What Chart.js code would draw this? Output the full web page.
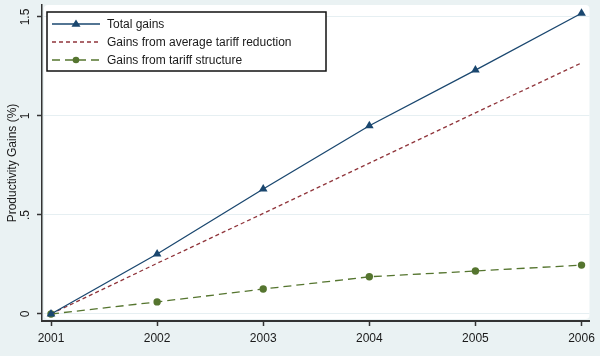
<!DOCTYPE html>
<html><head><meta charset="utf-8">
<script src="https://cdn.jsdelivr.net/npm/chart.js@4/dist/chart.umd.min.js"></script>
<style>html,body{margin:0;padding:0;background:#eaf2f3;overflow:hidden}</style>
</head><body><canvas id="c" width="600" height="356"></canvas>
<script>
const years = [2001, 2002, 2003, 2004, 2005, 2006];
const totalGains = [0, 0.303, 0.631, 0.951, 1.232, 1.519];
const avgTariffGains = [0, 0.256, 0.508, 0.762, 1.016, 1.268];
const structureGains = [0, 0.061, 0.126, 0.188, 0.217, 0.247];
const seriesLabels = ['Total gains', 'Gains from average tariff reduction', 'Gains from tariff structure'];
const yTicks = [0, 0.5, 1, 1.5];
const yTickLabels = ['0', '.5', '1', '1.5'];
const yTitle = 'Productivity Gains (%)';

const NAVY = '#1a476f', MAROON = '#90353b', GREEN = '#55752f';
const FONT = '"Liberation Sans", Arial, sans-serif';
const TXT = '#1a1a1a';

const toPts = arr => years.map((y, i) => ({x: y, y: arr[i]}));

const styles = [
  {color: NAVY, dash: [], marker: 'triangle', r: 5},
  {color: MAROON, dash: [4, 3], marker: null, r: 0},
  {color: GREEN, dash: [8, 5], marker: 'circle', r: 3.7}
];

const deco = {
  id: 'deco',
  beforeDraw(chart) {
    const {ctx, chartArea: ca} = chart;
    ctx.save();
    ctx.fillStyle = '#eaf2f3';
    ctx.fillRect(0, 0, chart.width, chart.height);
    ctx.fillStyle = '#ffffff';
    ctx.beginPath();
    ctx.roundRect(ca.left + 2, ca.top, ca.right - ca.left - 2, ca.bottom - ca.top - 2, 4);
    ctx.fill();
    ctx.restore();
  },
  afterDraw(chart) {
    const {ctx} = chart;
    const ys = chart.scales.y;
    ctx.save();
    ctx.fillStyle = TXT;
    ctx.font = '12px ' + FONT;
    ctx.textAlign = 'center';
    ctx.textBaseline = 'middle';
    yTicks.forEach((v, i) => {
      const py = ys.getPixelForValue(v);
      ctx.save();
      ctx.translate(26, py);
      ctx.rotate(-Math.PI / 2);
      ctx.fillText(yTickLabels[i], 0, 0);
      ctx.restore();
    });
    ctx.save();
    ctx.font = '12px ' + FONT;
    ctx.translate(13, (ys.top + ys.bottom) / 2);
    ctx.rotate(-Math.PI / 2);
    ctx.fillText(yTitle, 0, 0);
    ctx.restore();

    // legend
    const lx = 47, ly = 12, lw = 279, lh = 59;
    ctx.fillStyle = '#fff';
    ctx.fillRect(lx, ly, lw, lh);
    ctx.strokeStyle = '#111';
    ctx.lineWidth = 1.5;
    ctx.strokeRect(lx, ly, lw, lh);
    const rows = [24, 42, 60];
    seriesLabels.forEach((lab, i) => {
      const st = styles[i];
      const y = rows[i];
      ctx.save();
      ctx.strokeStyle = st.color;
      ctx.lineWidth = 1.3;
      ctx.setLineDash(st.dash);
      ctx.beginPath();
      ctx.moveTo(52, y);
      ctx.lineTo(100, y);
      ctx.stroke();
      ctx.setLineDash([]);
      ctx.fillStyle = st.color;
      if (st.marker === 'triangle') {
        const r = 4.5;
        ctx.beginPath();
        ctx.moveTo(76, y - r);
        ctx.lineTo(76 + r, y + r * 0.6);
        ctx.lineTo(76 - r, y + r * 0.6);
        ctx.closePath();
        ctx.fill();
      } else if (st.marker === 'circle') {
        ctx.beginPath();
        ctx.arc(76, y, 3.3, 0, Math.PI * 2);
        ctx.fill();
      }
      ctx.restore();
      ctx.fillStyle = TXT;
      ctx.font = '12px ' + FONT;
      ctx.textAlign = 'left';
      ctx.textBaseline = 'middle';
      ctx.fillText(lab, 107, y + 0.5);
    });
    ctx.restore();
  }
};

const datasets = [totalGains, avgTariffGains, structureGains].map((arr, i) => ({
  label: seriesLabels[i],
  data: toPts(arr),
  borderColor: styles[i].color,
  backgroundColor: styles[i].color,
  borderWidth: 1.3,
  borderDash: styles[i].dash,
  pointStyle: styles[i].marker || 'circle',
  pointRadius: styles[i].r,
  pointBorderWidth: 0,
  pointBackgroundColor: styles[i].color,
  tension: 0,
  clip: false
}));

new Chart(document.getElementById('c'), {
  type: 'line',
  data: {datasets},
  options: {
    responsive: false,
    animation: false,
    devicePixelRatio: 1,
    layout: {padding: {top: 5, right: 9, left: 0, bottom: 0}},
    plugins: {legend: {display: false}, tooltip: {enabled: false}},
    scales: {
      x: {
        type: 'linear',
        min: 2000.915,
        max: 2006.075,
        afterBuildTicks: s => { s.ticks = years.map(v => ({value: v})); },
        afterFit: s => { s.height = 35; },
        ticks: {
          callback: v => String(v),
          font: {family: FONT, size: 12},
          color: TXT,
          padding: 5,
          maxRotation: 0, minRotation: 0
        },
        grid: {drawOnChartArea: false, drawTicks: true, tickLength: 5, tickColor: '#333', tickWidth: 1.5},
        border: {color: '#333', width: 2}
      },
      y: {
        type: 'linear',
        min: -0.0354,
        max: 1.5606,
        afterBuildTicks: s => { s.ticks = yTicks.map(v => ({value: v})); },
        afterFit: s => { s.width = 42; },
        ticks: {display: false},
        grid: {color: '#e6eff2', lineWidth: 1, drawTicks: true, tickLength: 5, tickColor: '#333', tickWidth: 1.5},
        border: {color: '#333', width: 1.5}
      }
    }
  },
  plugins: [deco]
});
</script>
</body></html>
